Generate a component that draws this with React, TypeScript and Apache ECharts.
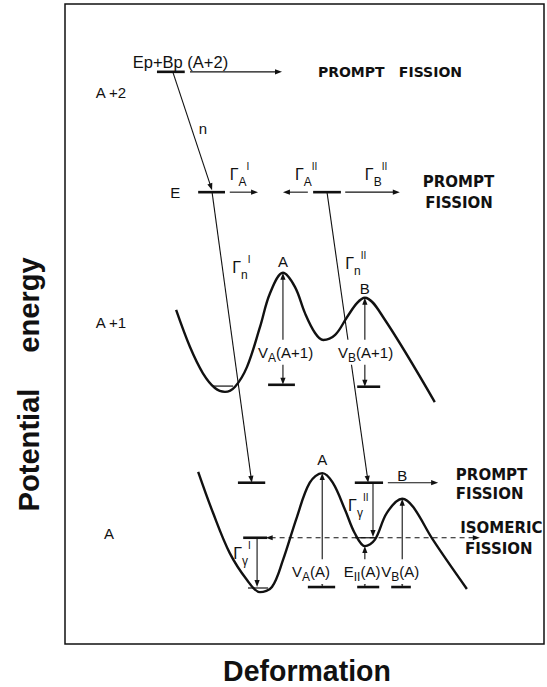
import React, { useEffect, useRef } from "react";
import * as echarts from "echarts";

type Pt = [number, number];

// Potential-energy curves, [deformation, energy], for the A+1 and A nuclei
const curveA1: Pt[] = [
  [23.2, 52.2], [26.1, 46.4], [28.8, 42.3], [31.3, 40.0], [33.4, 39.4],
  [35.5, 40.2], [38.0, 43.3], [40.7, 49.5], [42.8, 54.8], [45.5, 58.0],
  [48.0, 55.8], [50.1, 51.7], [52.2, 48.6], [53.9, 47.5], [56.4, 48.3],
  [58.9, 51.1], [61.0, 53.3], [62.6, 54.1], [66.4, 51.1], [77.2, 37.8],
];
const curveA: Pt[] = [
  [27.8, 26.9], [30.9, 20.5], [34.4, 14.2], [38.0, 10.0], [40.7, 8.1],
  [43.2, 8.9], [45.5, 13.1], [48.4, 19.8], [51.1, 25.2], [53.7, 26.7],
  [55.9, 25.2], [58.5, 20.9], [60.5, 17.3], [62.6, 15.3], [64.7, 16.3],
  [67.2, 20.5], [70.4, 22.7], [72.7, 21.4], [76.8, 16.3], [83.9, 8.6],
];

// Excitation levels [from, to, energy]
const levels: [number, number, number][] = [
  [19.2, 25.0, 89.4],
  [27.8, 33.4, 70.6],
  [51.8, 57.6, 70.6],
  [42.4, 48.0, 40.5],
  [61.0, 65.8, 40.2],
  [36.1, 41.8, 25.2],
  [60.5, 66.4, 25.2],
  [37.2, 42.2, 16.6],
  [50.7, 56.4, 8.9],
  [61.0, 65.6, 8.9],
  [68.1, 72.2, 8.9],
];

// Ground and isomeric states at the bottom of the wells
const states: [number, number, number][] = [
  [30.9, 35.1, 40.3],
  [38.2, 42.4, 8.75],
  [60.6, 65.0, 16.6],
];

// Transitions [x1, y1, x2, y2, heads, dashed]
type Transition = [number, number, number, number, "end" | "both", boolean];
const transitions: Transition[] = [
  [22.5, 89.4, 30.7, 70.9, "end", false],
  [26.1, 89.4, 45.3, 89.4, "end", false],
  [30.7, 70.6, 39.0, 25.2, "end", false],
  [54.7, 70.6, 63.3, 25.2, "end", false],
  [34.4, 70.6, 40.3, 70.6, "end", false],
  [50.7, 70.6, 45.5, 70.6, "end", false],
  [58.5, 70.6, 69.9, 70.6, "end", false],
  [45.5, 40.5, 45.5, 58.0, "both", false],
  [62.6, 40.2, 62.6, 54.1, "both", false],
  [67.4, 25.2, 77.9, 25.2, "end", false],
  [64.3, 25.2, 64.3, 16.7, "end", false],
  [40.1, 16.6, 40.1, 8.9, "end", false],
  [41.9, 16.6, 86.6, 16.6, "both", true],
  [53.7, 8.9, 53.7, 26.7, "both", false],
  [62.6, 8.9, 62.6, 15.3, "both", false],
  [70.4, 8.9, 70.4, 22.7, "both", false],
];

// Plain labels [text, x, y] (centred)
const plainLabels: [string, number, number][] = [
  ["A +2", 9.6, 86.1],
  ["A +1", 9.6, 50.2],
  ["A", 9.2, 17.2],
  ["n", 28.8, 80.6],
  ["E", 23.0, 70.5],
  ["A", 45.5, 59.7],
  ["B", 62.6, 55.6],
  ["A", 53.7, 28.8],
  ["B", 70.4, 26.4],
];

// Entrance channel [text, x, y] (centred)
const entryLabels: [string, number, number][] = [["Ep+Bp (A+2)", 24.1, 90.9]];

// Widths Γ [subscript, superscript, x, y] (left edge)
const widthLabels: [string, string, number, number][] = [
  ["A", "I", 34.4, 73.3],
  ["A", "II", 48.0, 73.3],
  ["B", "II", 62.6, 73.3],
  ["n", "I", 34.9, 58.8],
  ["n", "II", 58.5, 59.4],
  ["γ", "I", 35.1, 14.1],
  ["γ", "II", 59.1, 21.6],
];

// Barrier heights [symbol, subscript, nucleus, x, y] (left edge)
const barrierLabels: [string, string, string, number, number][] = [
  ["V", "A", "(A+1)", 40.3, 45.6],
  ["V", "B", "(A+1)", 57.0, 45.6],
  ["V", "A", "(A)", 47.4, 11.3],
  ["E", "II", "(A)", 58.2, 11.3],
  ["V", "B", "(A)", 66.0, 11.3],
];

// Decay channels [text, x, y] (left edge)
const channelLabels: [string, number, number][] = [
  ["PROMPT", 52.8, 89.4],
  ["FISSION", 69.7, 89.4],
  ["PROMPT", 74.7, 72.2],
  ["FISSION", 75.2, 68.9],
  ["PROMPT", 81.6, 26.4],
  ["FISSION", 81.6, 23.4],
  ["ISOMERIC", 82.5, 18.1],
  ["FISSION", 83.5, 14.8],
];

const SANS = '"Liberation Sans", Arial, Helvetica, sans-serif';
const WIDE = '"DejaVu Sans", "Liberation Sans", sans-serif';
const INK = "#111";

function renderLevel(list: [number, number, number][], width: number) {
  return (params: any, api: any) => {
    const l = list[params.dataIndex];
    const a = api.coord([l[0], l[2]]);
    const b = api.coord([l[1], l[2]]);
    return {
      type: "line",
      shape: { x1: a[0], y1: a[1], x2: b[0], y2: b[1] },
      style: { stroke: INK, lineWidth: width },
    };
  };
}

function renderTransition(params: any, api: any) {
  const t = transitions[params.dataIndex];
  const a = api.coord([t[0], t[1]]);
  const b = api.coord([t[2], t[3]]);
  const dx = b[0] - a[0];
  const dy = b[1] - a[1];
  const len = Math.hypot(dx, dy) || 1;
  const ux = dx / len;
  const uy = dy / len;
  const HL = 7;
  const HW = 2.6;
  const head = (tip: number[], vx: number, vy: number) => ({
    type: "polygon",
    shape: {
      points: [
        [tip[0], tip[1]],
        [tip[0] - vx * HL - vy * HW, tip[1] - vy * HL + vx * HW],
        [tip[0] - vx * HL + vy * HW, tip[1] - vy * HL - vx * HW],
      ],
    },
    style: { fill: INK },
  });
  const both = t[4] === "both";
  const s = both ? [a[0] + ux * HL * 0.7, a[1] + uy * HL * 0.7] : a;
  const e = [b[0] - ux * HL * 0.7, b[1] - uy * HL * 0.7];
  const children: any[] = [
    {
      type: "line",
      shape: { x1: s[0], y1: s[1], x2: e[0], y2: e[1] },
      style: { stroke: INK, lineWidth: 1.1, lineDash: t[5] ? [5, 4] : null },
    },
    head(b, ux, uy),
  ];
  if (both) children.push(head(a, -ux, -uy));
  return { type: "group", children };
}

function renderCentred(list: [string, number, number][], size: number) {
  return (params: any, api: any) => {
    const l = list[params.dataIndex];
    const p = api.coord([l[1], l[2]]);
    return {
      type: "text",
      x: p[0],
      y: p[1],
      style: {
        text: l[0],
        fill: INK,
        fontFamily: SANS,
        fontSize: size,
        align: "center",
        verticalAlign: "middle",
      },
    };
  };
}

function renderWidth(params: any, api: any) {
  const l = widthLabels[params.dataIndex];
  const p = api.coord([l[2], l[3]]);
  return {
    type: "text",
    x: p[0],
    y: p[1],
    style: {
      text: `{g|Γ}{s|${l[0]}}{p|${l[1]}}`,
      fill: INK,
      fontFamily: SANS,
      align: "left",
      verticalAlign: "middle",
      rich: {
        g: { fontSize: 16, lineHeight: 26, fontFamily: SANS, fill: INK },
        s: { fontSize: 12, lineHeight: 12, verticalAlign: "bottom", fontFamily: SANS, fill: INK },
        p: { fontSize: 10, lineHeight: 10, verticalAlign: "top", fontFamily: SANS, fill: INK },
      },
    },
  };
}

function renderBarrier(params: any, api: any) {
  const l = barrierLabels[params.dataIndex];
  const p = api.coord([l[3], l[4]]);
  return {
    type: "text",
    x: p[0],
    y: p[1],
    style: {
      text: `{m|${l[0]}}{s|${l[1]}}{m|${l[2]}}`,
      fill: INK,
      fontFamily: SANS,
      align: "left",
      verticalAlign: "middle",
      backgroundColor: "#fff",
      padding: [1, 0, 1, 0],
      rich: {
        m: { fontSize: 15, lineHeight: 23, fontFamily: SANS, fill: INK },
        s: { fontSize: 12, lineHeight: 12, verticalAlign: "bottom", fontFamily: SANS, fill: INK },
      },
    },
  };
}

function renderChannel(params: any, api: any) {
  const l = channelLabels[params.dataIndex];
  const p = api.coord([l[1], l[2]]);
  return {
    type: "text",
    x: p[0],
    y: p[1],
    style: {
      text: l[0],
      fill: INK,
      fontFamily: WIDE,
      fontWeight: "bold",
      fontSize: params.dataIndex < 2 ? 14 : 15,
      align: "left",
      verticalAlign: "middle",
    },
  };
}

function customSeries(name: string, data: number[][], renderItem: any, z: number) {
  return {
    name,
    type: "custom",
    coordinateSystem: "cartesian2d",
    data,
    renderItem,
    clip: false,
    silent: true,
    z,
  };
}

function axisTitle(text: string, x: number, y: number, vertical: boolean, squeeze: number) {
  return {
    type: "text",
    x,
    y,
    rotation: vertical ? Math.PI / 2 : 0,
    scaleX: squeeze,
    style: {
      text,
      fill: INK,
      fontFamily: SANS,
      fontWeight: "bold",
      fontSize: 30,
      lineHeight: 26,
      align: "center",
      verticalAlign: "middle",
    },
  };
}

function buildOption() {
  return {
    animation: false,
    backgroundColor: "#fff",
    grid: {
      left: 65,
      top: 4,
      right: 3,
      bottom: 43,
      show: true,
      borderColor: INK,
      borderWidth: 1.5,
      backgroundColor: "transparent",
    },
    xAxis: { type: "value", min: 0, max: 100, show: false },
    yAxis: { type: "value", min: 0, max: 100, show: false },
    graphic: [
      axisTitle("Deformation", 307, 671, false, 0.95),
      axisTitle("energy", 28, 305, true, 0.97),
      axisTitle("Potential", 28, 450, true, 0.97),
    ],
    series: [
      {
        name: "A+1",
        type: "line",
        data: curveA1,
        smooth: 0.35,
        symbol: "none",
        lineStyle: { color: INK, width: 2.4 },
        silent: true,
        z: 2,
      },
      {
        name: "A",
        type: "line",
        data: curveA,
        smooth: 0.35,
        symbol: "none",
        lineStyle: { color: INK, width: 2.4 },
        silent: true,
        z: 2,
      },
      customSeries("levels", levels.map((l) => [l[0], l[2], l[1]]), renderLevel(levels, 2.6), 3),
      customSeries("states", states.map((l) => [l[0], l[2], l[1]]), renderLevel(states, 1.2), 3),
      customSeries("transitions", transitions.map((t) => [t[0], t[1], t[2], t[3]]), renderTransition, 4),
      customSeries("labels", plainLabels.map((l) => [l[1], l[2]]), renderCentred(plainLabels, 15), 6),
      customSeries("entry", entryLabels.map((l) => [l[1], l[2]]), renderCentred(entryLabels, 16.5), 6),
      customSeries("widths", widthLabels.map((l) => [l[2], l[3]]), renderWidth, 6),
      customSeries("barriers", barrierLabels.map((l) => [l[3], l[4]]), renderBarrier, 7),
      customSeries("channels", channelLabels.map((l) => [l[1], l[2]]), renderChannel, 6),
    ],
  };
}

export default function App() {
  const ref = useRef<HTMLDivElement>(null);
  useEffect(() => {
    if (!ref.current) return;
    const chart = echarts.init(ref.current, null, { renderer: "svg" });
    chart.setOption(buildOption() as any);
    return () => chart.dispose();
  }, []);
  return (
    <div
      ref={ref}
      style={{ position: "fixed", left: 0, top: 0, width: 547, height: 687, background: "#fff" }}
    />
  );
}
